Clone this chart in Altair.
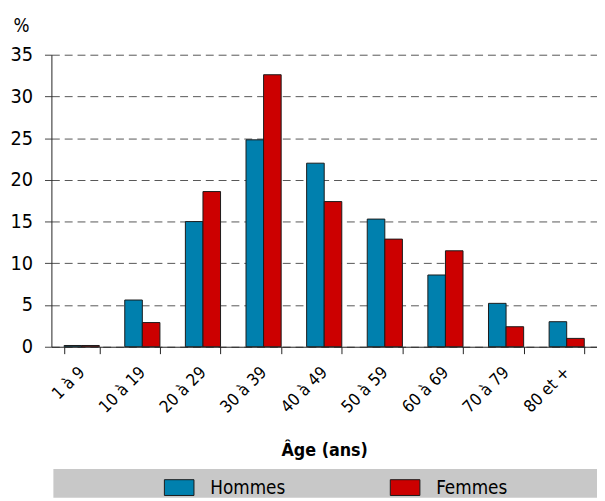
import altair as alt
import pandas as pd

categories = ["1 à 9", "10 à 19", "20 à 29", "30 à 39", "40 à 49",
              "50 à 59", "60 à 69", "70 à 79", "80 et +"]
hommes = [0.15, 5.6, 15.0, 24.8, 22.0, 15.3, 8.6, 5.2, 3.0]
femmes = [0.15, 2.9, 18.6, 32.6, 17.4, 12.9, 11.5, 2.4, 1.0]
series = ["Hommes", "Femmes"]
colors = ["#0080AE", "#CC0000"]
y_ticks = [0, 5, 10, 15, 20, 25, 30, 35]

rows = []
for c, h, f in zip(categories, hommes, femmes):
    rows.append({"age": c, "sexe": "Hommes", "pct": h})
    rows.append({"age": c, "sexe": "Femmes", "pct": f})
df = pd.DataFrame(rows)

FONT = "DejaVu Sans Condensed, Liberation Sans Narrow, sans-serif"

band = alt.Chart(alt.Data(values=[{"k": 1}])).mark_rect(color="#C8C8C8").encode(
    x=alt.value(2), x2=alt.value(553), y=alt.value(420), y2=alt.value(449)
)

bars = alt.Chart(df).mark_bar(stroke="#1a1a1a", strokeWidth=1).encode(
    x=alt.X(
        "age:N", sort=categories,
        scale=alt.Scale(paddingInner=0.42, paddingOuter=0.21),
        axis=alt.Axis(
            title="Âge (ans)", labelAngle=-45, labelAlign="right",
            labelBaseline="middle", labelPadding=16, tickSize=7,
            tickBand="extent", domainColor="#222", tickColor="#222",
            labelFontSize=17, labelColor="black", titleFontSize=18,
            titleFontWeight="bold", titleColor="black", titleY=110,
            titleBaseline="alphabetic", grid=False, labelFont=FONT,
            titleFont=FONT,
        ),
    ),
    xOffset=alt.XOffset("sexe:N", sort=series),
    y=alt.Y(
        "pct:Q", scale=alt.Scale(domain=[0, 35], nice=False),
        axis=alt.Axis(
            values=y_ticks, title="%", titleAngle=0, titleX=-39, titleY=-24,
            titleAlign="left", titleBaseline="alphabetic", titleFontSize=19,
            titleFontWeight="normal", titleColor="black", titleFont=FONT,
            grid=True, gridDash=[8, 5], gridColor="#555", gridWidth=1,
            tickSize=7, tickColor="#444", labelPadding=12, labelFontSize=20,
            labelColor="black", labelFont=FONT, domainColor="#222",
        ),
    ),
    color=alt.Color(
        "sexe:N", sort=series,
        scale=alt.Scale(domain=series, range=colors),
        legend=alt.Legend(
            title=None, orient="none", legendX=114, legendY=423,
            direction="horizontal", symbolType="M-1,-0.533H1V0.533H-1Z",
            symbolSize=900, symbolStrokeColor="#1a1a1a", symbolStrokeWidth=1,
            symbolOpacity=1, labelFontSize=19, labelOffset=16,
            columnPadding=103, labelFont=FONT, labelColor="black", padding=0,
        ),
    ),
)

chart = alt.layer(band, bars).properties(
    width=553, height=296,
    autosize=alt.AutoSizeParams(type="none"),
    padding={"left": 44, "top": 44, "right": 0, "bottom": 153},
).configure(font=FONT).configure_view(stroke=None)

chart.save("out.html", embed_options={"renderer": "svg", "actions": False})
